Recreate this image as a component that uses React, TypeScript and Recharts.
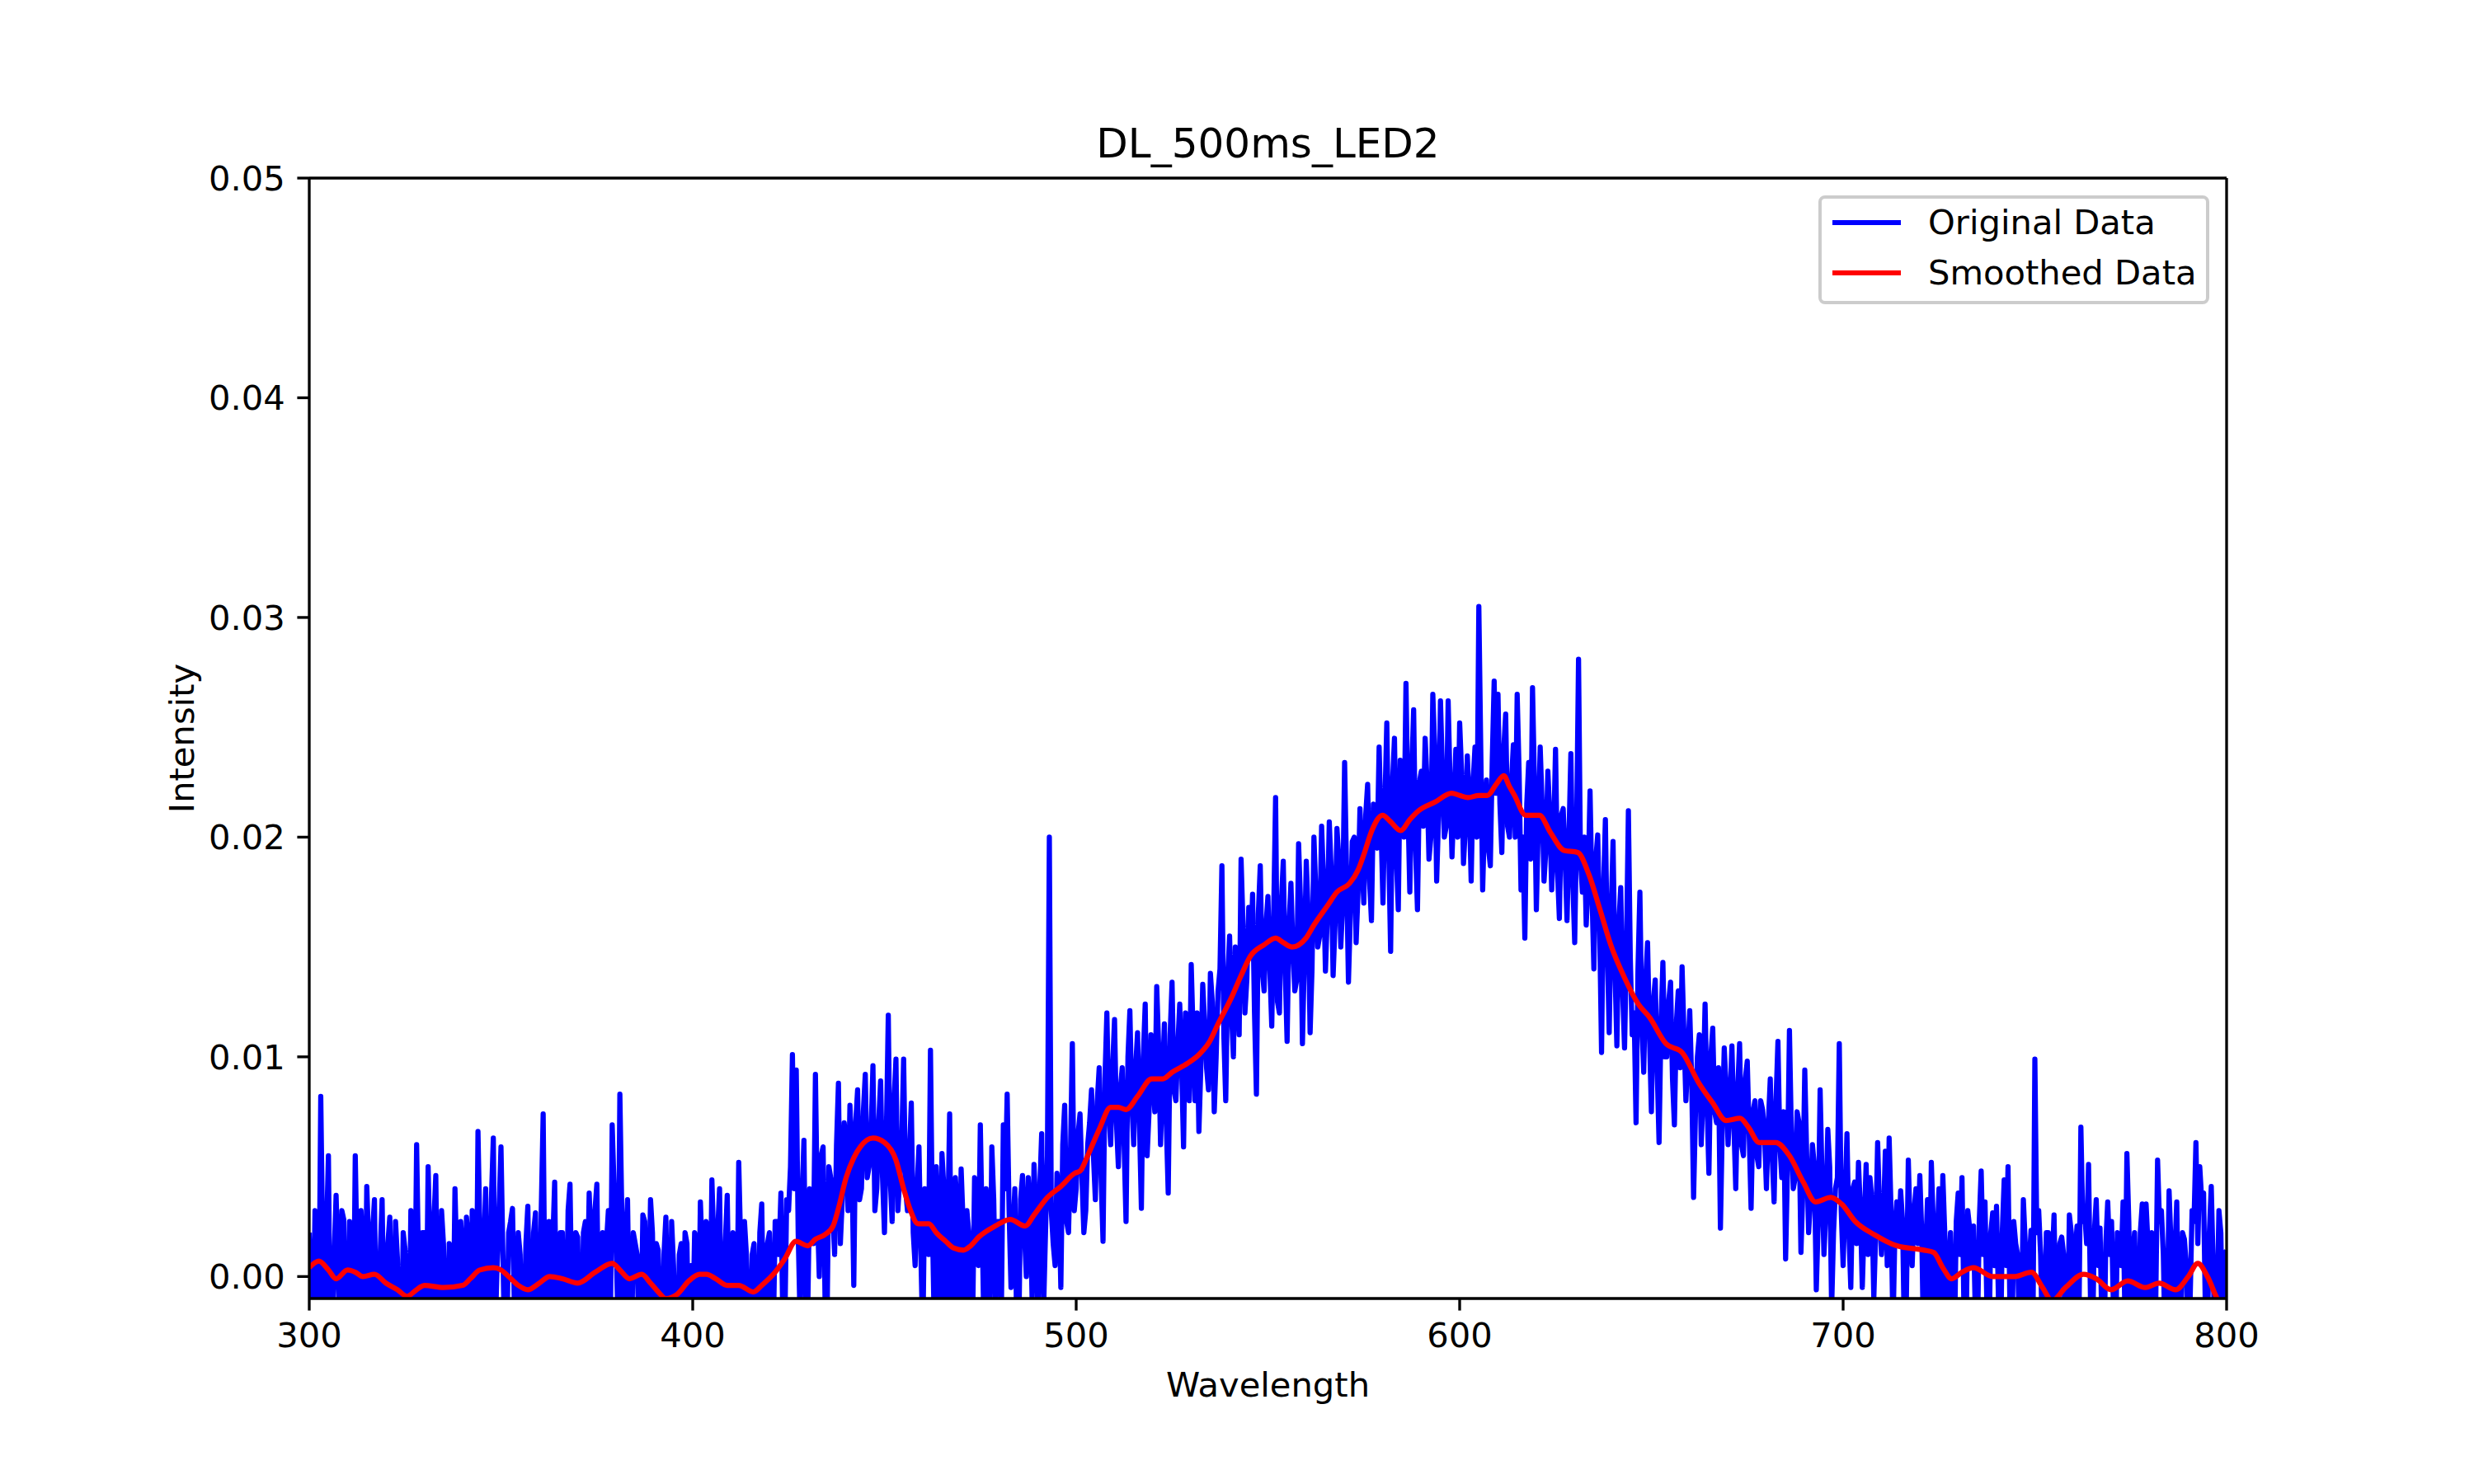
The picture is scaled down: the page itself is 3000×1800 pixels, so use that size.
import { Label, Legend, Line, LineChart, ReferenceLine, XAxis, YAxis } from "recharts";

// Spectrum sampled every 0.5 nm from 300 nm, intensity in units of 1e-4.
// *_S arrays hold the whole-nm samples, *_H arrays the samples at nm + 0.5.
const WL_START = 300;

const ORIGINAL_300S = [
  20, -35, 25, 82, -40, 55, -32, 37, -28, 26,
  -40, 15, 55, -38, 10, 41, -42, 35, -20, 35,
  -40, 27, -35, 8, -45, 12, -40, 18, 60, -35,
  20, 50, -38, 46, -32, 15, -45, 12, 40, -35,
  10, 27, -40, 22, 66, -30, 40, -25, 63, 5,
  59, -35, 20, 31, -42, 10, -30, 32, -45, 29,
  -38, 74, 10, -30, 43, -35, 20, -28, 42, -40,
  18, -35, 25, 38, -30, 42, 5, -40, 30, 69,
  15, 83, -30, 35, -40, 15, -32, 28, -35, 35,
  -40, 12, -45, 27, -40, 5, -45, 15, 20, -40,
];
const ORIGINAL_300H = [
  -10, 30, -25, 15, 20, -35, 10, 5, 30, -30,
  25, -30, 5, 30, -35, 15, 20, -30, 10, -25,
  15, -20, 25, -30, 20, -15, 30, -25, 5, 20,
  -30, 10, 25, -25, 30, -20, 15, -30, 5, 25,
  -25, 15, 30, -35, 20, 10, -30, 35, -25, 30,
  10, -30, 25, -15, 20, -35, 15, -25, 20, -30,
  30, -20, 25, 15, -30, 20, -25, 30, -15, 20,
  -30, 20, -10, 15, 30, -25, 20, 15, -30, 40,
  -20, 30, 15, -25, 20, 10, -30, 25, -15, 20,
  15, -25, 10, -20, 25, -30, 10, -25, 15, 5,
];

const ORIGINAL_400S = [
  -25, 15, 34, -35, 20, 44, -30, 40, -40, 37,
  -45, 15, 52, -40, 10, -35, 15, -45, 33, -35,
  20, -30, 25, 38, -25, 30, 101, 94, -20, 62,
  -15, 35, 92, 0, 59, -25, 45, 10, 88, 35,
  60, 78, -4, 85, 40, 92, 50, 96, 40, 89,
  20, 119, 25, 99, 45, 99, 30, 79, 5, 59,
  -30, 30, 103, -25, 25, 56, -35, 74, -30, 30,
  49, -40, 20, -20, 40, 69, -30, 30, 59, -15,
  25, 69, 83, -5, 40, -30, 46, 0, 30, 51,
  -20, 65, 20, 200, 15, 47, -5, 78, 20, 106,
];
const ORIGINAL_400H = [
  20, -30, 10, 25, -25, 15, 20, -30, 15, -20,
  20, -25, 15, 25, -35, 10, -20, 20, -25, 15,
  -15, 25, 10, -20, 35, 50, 40, 20, 35, -15,
  40, 15, 30, 55, -10, 50, 30, 60, 15, 70,
  30, 55, 70, 35, 75, 45, 65, 30, 70, 45,
  65, 45, 80, 30, 60, 40, 55, 20, 40, 10,
  40, 10, 25, 50, -15, 40, 20, -20, 45, -10,
  25, 30, -25, 45, 5, 20, 40, -20, 35, 25,
  -15, 40, 30, 20, -25, 35, 20, 45, -10, 30,
  40, -15, 55, 30, 5, 35, 60, 25, 55, 30,
];

const ORIGINAL_500S = [
  40, 74, 20, 60, 85, 35, 95, 16, 120, 60,
  117, 50, 95, 25, 121, 60, 111, 31, 124, 75,
  90, 132, 60, 115, 38, 134, 80, 124, 59, 110,
  142, 80, 66, 133, 95, 138, 75, 130, 187, 80,
  155, 100, 140, 190, 120, 168, 174, 83, 187, 130,
  173, 114, 218, 120, 189, 107, 179, 130, 197, 106,
  189, 111, 200, 150, 205, 139, 207, 137, 204, 150,
  234, 134, 198, 152, 213, 170, 224, 162, 200, 241,
  170, 252, 148, 245, 167, 220, 270, 175, 258, 167,
  230, 245, 190, 265, 180, 262, 200, 262, 191, 240,
];
const ORIGINAL_500H = [
  65, 45, 30, 70, 55, 80, 45, 90, 75, 95,
  70, 85, 60, 100, 80, 95, 70, 100, 55, 110,
  75, 105, 90, 70, 110, 85, 105, 95, 120, 80,
  110, 120, 95, 115, 85, 125, 100, 140, 110, 135,
  120, 150, 110, 160, 135, 145, 120, 165, 140, 160,
  140, 165, 125, 170, 140, 160, 150, 135, 170, 145,
  165, 140, 175, 155, 180, 165, 185, 160, 190, 170,
  185, 165, 200, 175, 190, 210, 180, 215, 195, 205,
  215, 195, 225, 190, 235, 200, 215, 230, 195, 225,
  205, 225, 200, 240, 210, 230, 205, 225, 215, 200,
];

const ORIGINAL_600S = [
  252, 188, 237, 180, 241, 305, 176, 226, 187, 271,
  265, 193, 256, 200, 242, 265, 176, 154, 234, 268,
  167, 241, 180, 230, 176, 240, 163, 213, 162, 238,
  152, 281, 175, 160, 221, 140, 201, 102, 208, 111,
  198, 105, 177, 104, 212, 110, 70, 175, 93, 152,
  75, 135, 61, 143, 100, 134, 69, 130, 141, 80,
  121, 36, 100, 60, 124, 47, 113, 70, 22, 104,
  60, 105, 40, 106, 55, 98, 31, 80, 50, 76,
  40, 90, 34, 107, 45, 8, 112, 40, 75, 11,
  94, 20, 60, -6, 85, 10, 67, -15, 40, 106,
];
const ORIGINAL_600H = [
  230, 205, 215, 225, 200, 240, 210, 195, 235, 220,
  215, 240, 205, 225, 200, 230, 200, 215, 190, 225,
  205, 215, 195, 210, 200, 185, 210, 190, 200, 180,
  205, 190, 200, 180, 175, 190, 160, 175, 150, 165,
  140, 160, 130, 150, 145, 120, 140, 115, 135, 110,
  125, 95, 115, 100, 125, 90, 115, 95, 110, 100,
  90, 75, 110, 85, 80, 100, 75, 95, 70, 85,
  80, 70, 85, 60, 90, 65, 75, 55, 80, 65,
  70, 55, 80, 60, 75, 50, 65, 45, 70, 40,
  55, 35, 50, 25, 45, 30, 50, 20, 45, 30,
];

const ORIGINAL_700S = [
  5, 65, -5, 43, 52, -5, 51, 45, -10, 61,
  10, 57, 63, -25, 34, 39, -30, 53, 5, 40,
  46, -35, 35, 52, -25, 40, 46, -40, 20, -35,
  38, 45, -35, 22, 23, -30, 48, 34, -35, 29,
  32, -40, 44, 50, -35, 15, -30, 35, -35, 21,
  99, 30, -35, 20, -40, 28, -35, 18, -40, 28,
  -30, 23, 68, 29, 51, -35, 35, 22, -40, 34,
  25, -40, 10, 34, 56, -35, 20, -30, 33, 33,
  -40, 15, 53, 30, -35, 39, -30, 34, -35, 17,
  -30, 30, 61, 50, 38, -25, 41, -35, 30, -30,
  12,
];
const ORIGINAL_700H = [
  35, 20, 40, 15, 30, 25, 10, 35, 20, 30,
  25, 5, 30, 20, 15, 25, -10, 20, 30, 15,
  20, 10, -15, 25, 15, -10, 20, 5, -20, 25,
  10, -15, 30, 5, -20, 25, 10, -15, 20, 5,
  -10, 20, 5, -15, 25, 10, -20, 15, 5, -25,
  20, 10, -15, 20, 5, -20, 15, 10, -25, 20,
  10, -20, 25, 15, -10, 20, 5, -25, 15, 10,
  -15, 20, 5, -20, 25, 10, -15, 20, -10, 15,
  20, -15, 25, 10, -20, 15, 10, -25, 20, 5,
  -10, 25, 15, 35, -20, 20, 5, -15, 20, 10,
];

const SMOOTH_WL = [
  300, 302.5, 305, 307, 310, 312, 314, 317, 320, 323,
  325.5, 328, 330, 335, 340, 342, 344.5, 348, 350, 352,
  354.5, 357, 360, 362.7, 366, 370, 374.6, 379, 381, 383.5,
  386.7, 389, 391, 393, 396, 399, 401.8, 403.6, 406, 409,
  412, 415.8, 418, 421.5, 424, 426.9, 430, 432, 434.4, 436.6,
  438, 440, 442, 443.7, 447, 450, 453, 455, 456.6, 458.8,
  461.6, 463.5, 466, 468, 470.6, 472.5, 474.6, 478.9, 482.8, 486.7,
  489, 492.5, 496, 499.6, 501, 503, 506, 509, 511, 513,
  516, 519.7, 522.6, 525, 529, 532, 534.8, 537, 540.5, 543,
  545.5, 549, 552, 554, 556.3, 559.9, 562, 565.6, 568, 571.3,
  573.5, 575, 577.1, 579.9, 582, 584.6, 587, 589.3, 593.6, 597.9,
  600, 602.2, 605, 607.2, 609.5, 611.5, 613, 614.3, 617.2, 620.8,
  623.7, 627.2, 630.8, 633.7, 636.6, 639.4, 643, 646.6, 649.5, 653.8,
  658, 662.4, 666, 669.5, 673.1, 675.3, 678.1, 682.4, 686, 689.6,
  692.8, 696.8, 699.6, 703.2, 708.2, 714, 721.1, 723.6, 726, 728.3,
  731, 734, 739, 744.8, 749.1, 752, 754.5, 758, 762.7, 766,
  769.9, 774.2, 778.8, 782.4, 786.7, 790, 792.5, 795, 797.8, 800,
];

const SMOOTH_VAL = [
  4, 7, 3, -1, 3, 2, 0, 1, -3, -6,
  -9, -6, -4, -5, -4, -1, 3, 4, 3, 0,
  -4, -6, -3, 0, -1, -3, 2, 6, 3, -1,
  1, -3, -7, -10, -8, -2, 1, 1, -1, -4,
  -4, -7, -4, 2, 8, 16, 14, 17, 19, 23,
  31, 45, 54, 59, 63, 61, 53, 40, 31, 24,
  24, 20, 16, 13, 12, 14, 18, 23, 26, 23,
  28, 36, 41, 47, 48, 55, 67, 77, 77, 76,
  82, 90, 90, 93, 97, 101, 107, 115, 127, 137,
  146, 151, 154, 152, 150, 154, 160, 169, 175, 179,
  185, 192, 203, 210, 207, 203, 208, 212, 216, 220,
  219, 218, 219, 219, 224, 228, 223, 219, 210, 210,
  202, 194, 193, 183, 167, 151, 136, 124, 118, 106,
  102, 88, 79, 71, 72, 68, 61, 61, 55, 43,
  34, 36, 33, 25, 19, 14, 12, 11, 4, -1,
  2, 4, 0, 0, 2, -5, -11, -5, 1, -1,
  -6, -2, -5, -3, -6, 0, 6, 0, -11, -16,
];

const X_TICKS = [300, 400, 500, 600, 700, 800];
const Y_TICKS = [0, 0.01, 0.02, 0.03, 0.04, 0.05];

const WHOLE = [...ORIGINAL_300S, ...ORIGINAL_400S, ...ORIGINAL_500S, ...ORIGINAL_600S, ...ORIGINAL_700S];
const HALF = [...ORIGINAL_300H, ...ORIGINAL_400H, ...ORIGINAL_500H, ...ORIGINAL_600H, ...ORIGINAL_700H];

const originalData: { wl: number; value: number }[] = [];
WHOLE.forEach((v, i) => {
  originalData.push({ wl: WL_START + i, value: v / 10000 });
  if (i < HALF.length) originalData.push({ wl: WL_START + i + 0.5, value: HALF[i] / 10000 });
});
const smoothData = SMOOTH_WL.map((wl, i) => ({ wl, value: SMOOTH_VAL[i] / 10000 }));

const FONT = "'DejaVu Sans', sans-serif";
const PT = 300 / 72; // matplotlib points -> px at 300 dpi
const FS = 10 * PT;

function LegendBox({ payload }: any) {
  const items = payload || [];
  return (
    <div
      style={{
        position: "relative",
        width: 474,
        height: 132,
        boxSizing: "border-box",
        border: `${PT}px solid #cccccc`,
        borderRadius: 8,
        background: "rgba(255,255,255,0.8)",
        fontFamily: FONT,
      }}
    >
      {items.map((item: any, i: number) => (
        <div key={item.value}>
          <div
            style={{
              position: "absolute",
              left: 13,
              top: 29 + i * 61 - 3,
              width: 83,
              height: 6.25,
              background: item.color,
            }}
          />
          <div
            style={{
              position: "absolute",
              left: 129,
              top: 29 + i * 61 - 25,
              height: 50,
              lineHeight: "50px",
              fontSize: FS,
              color: "#000",
              whiteSpace: "nowrap",
            }}
          >
            {item.value}
          </div>
        </div>
      ))}
    </div>
  );
}

export default function App() {
  const tickStyle = { fill: "#000", fontSize: FS, fontFamily: FONT };
  const axisLine = { stroke: "#000", strokeWidth: 0.8 * PT };
  return (
    <div
      style={{
        position: "absolute",
        left: 0,
        top: 0,
        width: 3000,
        height: 1800,
        background: "#fff",
        fontFamily: FONT,
      }}
    >
      <LineChart width={3000} height={1800} margin={{ top: 216, right: 300, bottom: 17, left: 65 }}>
        <XAxis
          type="number"
          dataKey="wl"
          domain={[300, 800]}
          ticks={X_TICKS}
          interval={0}
          allowDataOverflow
          height={208}
          stroke="#000"
          tickSize={3.5 * PT}
          tickMargin={3.5 * PT}
          tick={tickStyle}
          tickLine={axisLine}
          axisLine={axisLine}
        >
          <Label value="Wavelength" position="center" fill="#000" fontSize={FS} fontFamily={FONT} />
        </XAxis>
        <YAxis
          type="number"
          domain={[-0.001, 0.05]}
          ticks={Y_TICKS}
          interval={0}
          allowDataOverflow
          width={310}
          stroke="#000"
          tickSize={3.5 * PT}
          tickMargin={3.5 * PT}
          tick={tickStyle}
          tickLine={axisLine}
          axisLine={axisLine}
          tickFormatter={(v: number) => v.toFixed(2)}
        >
          <Label value="Intensity" position="center" angle={-90} fill="#000" fontSize={FS} fontFamily={FONT} />
        </YAxis>
        <Line
          data={originalData}
          dataKey="value"
          name="Original Data"
          type="linear"
          stroke="#0000ff"
          strokeWidth={1.5 * PT}
          strokeLinejoin="round"
          dot={false}
          activeDot={false}
          isAnimationActive={false}
        />
        <Line
          data={smoothData}
          dataKey="value"
          name="Smoothed Data"
          type="monotone"
          stroke="#ff0000"
          strokeWidth={1.5 * PT}
          strokeLinejoin="round"
          dot={false}
          activeDot={false}
          isAnimationActive={false}
        />
        {/* top and right spines */}
        <ReferenceLine y={0.05} stroke="#000" strokeWidth={0.8 * PT} />
        <ReferenceLine x={800} stroke="#000" strokeWidth={0.8 * PT} />
        <Legend
          layout="vertical"
          align="center"
          verticalAlign="middle"
          wrapperStyle={{ left: 2205, top: 237, width: 474, height: 132 }}
          content={(props: any) => <LegendBox {...props} />}
        />
      </LineChart>
      <div
        style={{
          position: "absolute",
          left: 375,
          width: 2325,
          top: 149,
          height: 50,
          lineHeight: "50px",
          fontSize: 12 * PT,
          textAlign: "center",
          color: "#000",
        }}
      >
        DL_500ms_LED2
      </div>
    </div>
  );
}
